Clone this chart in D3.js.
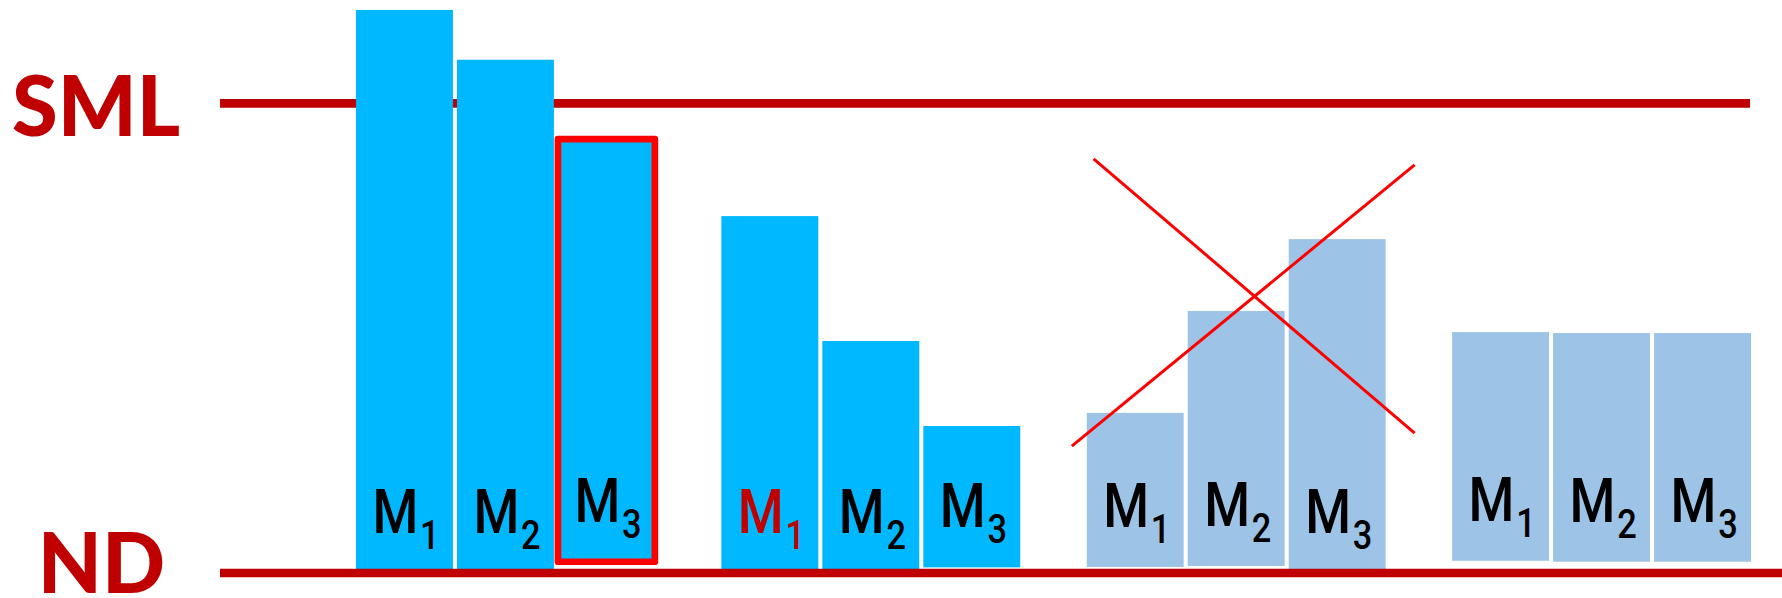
<!DOCTYPE html>
<html>
<head>
<meta charset="utf-8">
<script src="https://cdn.jsdelivr.net/npm/d3@7"></script>
<style>
  html, body { margin: 0; padding: 0; background: #fff; }
  svg { display: block; }
</style>
</head>
<body>
<svg id="chart" width="1782" height="598"></svg>
<script>
// ---- data ----
const groups = ["G1", "G2", "G3", "G4"];
const models = ["M1", "M2", "M3"];
const modelIndex = ["1", "2", "3"];
// bar tops (ND = 0, SML = 100)
const topValues = [
  [119.9, 109.3, 92.4],
  [76.0, 49.4, 31.3],
  [34.1, 55.8, 71.1],
  [51.3, 51.1, 51.1]
];
// bar bottoms (some bars float slightly above ND)
const baseValues = [
  [0, 0, 2.4],
  [0, 0, 1.2],
  [1.3, 1.5, 0],
  [2.6, 2.4, 2.4]
];
const groupShade = ["bright", "bright", "pale", "pale"];
const levelLabels = ["SML", "ND"];
const levelValues = [100, 0];
const outlinedBar = { group: "G1", model: "M3" };
const redLabel = { group: "G2", model: "M1" };
const crossedGroup = "G3";

// ---- styles ----
const W = 1782, H = 598;
const svg = d3.select("#chart");
const colors = { bright: "#00B8FF", pale: "#9DC3E6" };
const darkRed = "#C00000", red = "#FF0000";

const y = d3.scaleLinear().domain([0, 100]).range([573, 103.4]);
const x = d3.scaleBand().domain(groups).range([356, 1751]).paddingInner(0.182).paddingOuter(0);
const xi = d3.scaleBand().domain(models).range([0, x.bandwidth()]).paddingInner(0.04).paddingOuter(0);

// flatten
const bars = [];
groups.forEach((g, gi) => models.forEach((m, mi) => bars.push({
  group: g, model: m, idx: modelIndex[mi], top: topValues[gi][mi], base: baseValues[gi][mi], shade: groupShade[gi]
})));

// SML line (behind bars)
svg.append("line")
  .attr("x1", 220).attr("x2", 1750)
  .attr("y1", y(levelValues[0])).attr("y2", y(levelValues[0]))
  .attr("stroke", darkRed).attr("stroke-width", 8.7);

// bars
svg.append("g").selectAll("rect").data(bars).join("rect")
  .attr("x", d => x(d.group) + xi(d.model))
  .attr("width", xi.bandwidth())
  .attr("y", d => y(d.top))
  .attr("height", d => y(d.base) - y(d.top))
  .attr("fill", d => colors[d.shade])
  .attr("stroke", d => (d.group === outlinedBar.group && d.model === outlinedBar.model) ? red : "none")
  .attr("stroke-width", 6.7)
  .attr("stroke-linejoin", "round");

// labels
const lab = svg.append("g").selectAll("text").data(bars).join("text")
  .attr("transform", d => `translate(${x(d.group) + xi(d.model) + 16.5},${y(d.base) - 40}) scale(0.86,1)`)
  .attr("font-family", "Roboto, 'Liberation Sans', sans-serif")
  .attr("font-weight", 500)
  .attr("font-size", 61)
  .attr("fill", d => (d.group === redLabel.group && d.model === redLabel.model) ? darkRed : "#000");
lab.append("tspan").text("M");
lab.append("tspan").attr("dy", 16).attr("dx", 2).attr("font-size", 40).text(d => d.idx);

// ND line (on top)
svg.append("line")
  .attr("x1", 220).attr("x2", W)
  .attr("y1", y(levelValues[1])).attr("y2", y(levelValues[1]))
  .attr("stroke", darkRed).attr("stroke-width", 8.7);

// level labels
svg.append("g").selectAll("text").data(levelLabels).join("text")
  .attr("x", (d, i) => i === 0 ? 96 : 101.5)
  .attr("y", (d, i) => y(levelValues[i]) + (i === 0 ? 33 : 20))
  .attr("text-anchor", "middle")
  .attr("font-family", "Lato, 'Open Sans', sans-serif")
  .attr("font-weight", 900)
  .attr("font-size", 83)
  .attr("fill", darkRed)
  .text(d => d);

// cross over group 3
const gx = x(crossedGroup), bw = x.bandwidth();
const cross = [
  [[gx + 0.023 * bw, y(88.2)], [gx + 1.097 * bw, y(29.8)]],
  [[gx - 0.05 * bw, y(27.0)], [gx + 1.097 * bw, y(86.9)]]
];
svg.append("g").selectAll("line").data(cross).join("line")
  .attr("x1", d => d[0][0]).attr("y1", d => d[0][1])
  .attr("x2", d => d[1][0]).attr("y2", d => d[1][1])
  .attr("stroke", red).attr("stroke-width", 3);
</script>
</body>
</html>
